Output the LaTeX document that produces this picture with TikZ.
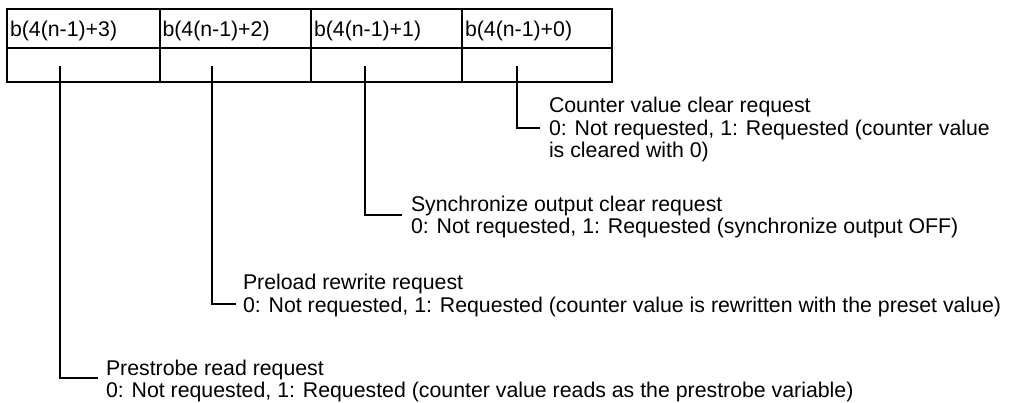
\documentclass[tikz,border=0pt]{standalone}
\usepackage{fontspec}
\setmainfont{Liberation Sans}
\begin{document}
\begin{tikzpicture}[x=1pt,y=-1pt,line width=2pt,
  every node/.style={font=\fontsize{21.3}{22.5}\selectfont,inner sep=0pt},
  head/.style={anchor=base west},
  desc/.style={anchor=base west,align=left},
  link/.style={line width=2pt}]
\useasboundingbox (0,0) rectangle (1013,402);
% table
\draw (7,9) rectangle (612,82);
\draw (7,48) -- (612,48);
\foreach \x in {159.5,311,462} \draw (\x,9) -- (\x,82);
\node[head] (h3) at (9,36) {b(4(n-1)+3)};
\node[head] (h2) at (161.5,36) {b(4(n-1)+2)};
\node[head] (h1) at (313,36) {b(4(n-1)+1)};
\node[head] (h0) at (464,36) {b(4(n-1)+0)};
% tick starts
\coordinate (t0) at (517,66);
\coordinate (t1) at (365,66);
\coordinate (t2) at (212,66);
\coordinate (t3) at (60,66);
% elbows
\coordinate (e0) at (540,127.5);
\coordinate (e1) at (402,215);
\coordinate (e2) at (236,304);
\coordinate (e3) at (98,378);
% descriptions (anchor = baseline of last line)
\node[desc] (d0) at (548,157.5) {Counter value clear request\\0: Not requested, 1: Requested (counter value\\is cleared with 0)};
\node[desc] (d1) at (410,233.5) {Synchronize output clear request\\0: Not requested, 1: Requested (synchronize output OFF)};
\node[desc] (d2) at (242,312) {Preload rewrite request\\0: Not requested, 1: Requested (counter value is rewritten with the preset value)};
\node[desc] (d3) at (105,397.5) {Prestrobe read request\\0: Not requested, 1: Requested (counter value reads as the prestrobe variable)};
% connectors
\draw[link] (t0) |- (e0);
\draw[link] (t1) |- (e1);
\draw[link] (t2) |- (e2);
\draw[link] (t3) |- (e3);
\end{tikzpicture}
\end{document}
